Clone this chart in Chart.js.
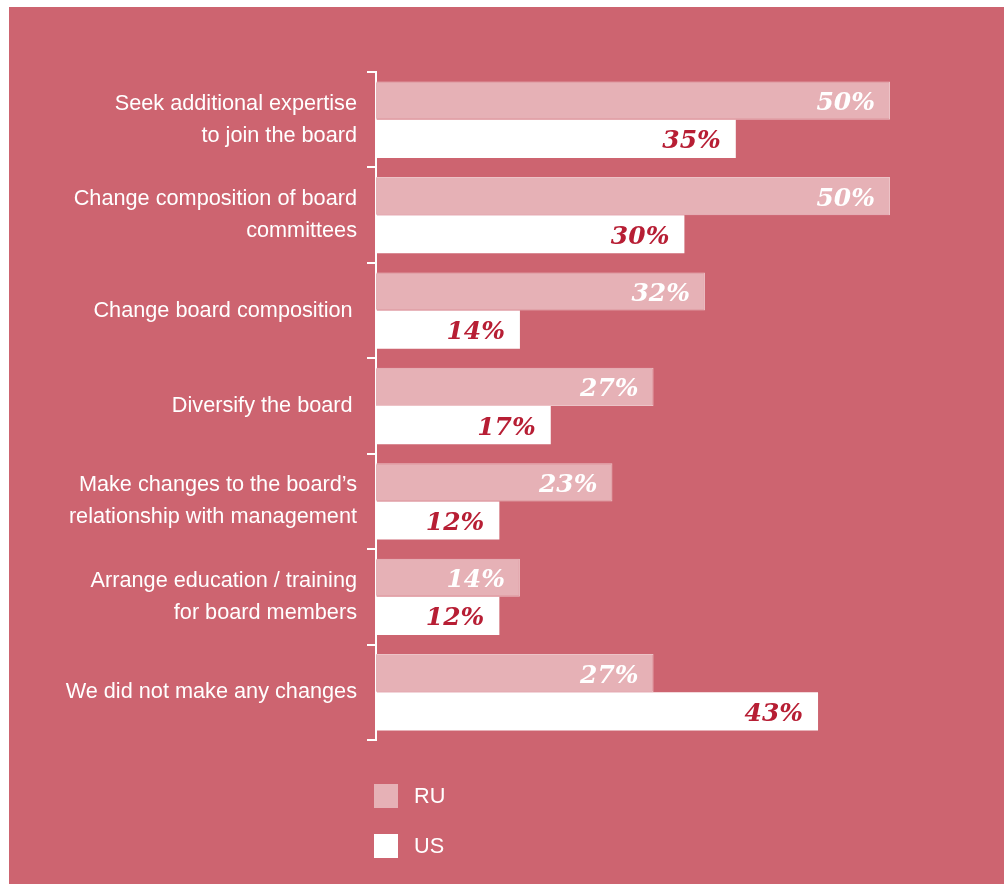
<!DOCTYPE html>
<html>
<head>
<meta charset="utf-8">
<script src="https://cdn.jsdelivr.net/npm/chart.js@4.4.1/dist/chart.umd.min.js"></script>
<style>
  html, body { margin: 0; padding: 0; background: #ffffff; }
  body { width: 1004px; height: 884px; position: relative; overflow: hidden; }
  #panel { position: absolute; left: 9px; top: 7px; width: 995px; height: 877px; background: #CD6470; }
  #chart { display: block; }
</style>
</head>
<body>
<div id="panel"><canvas id="chart" width="995" height="877"></canvas></div>
<script>
// Board changes made, share of respondents (%)
const categories = [
  ["Seek additional expertise", "to join the board"],
  ["Change composition of board", "committees"],
  "Change board composition\u2009",
  "Diversify the board\u2009",
  ["Make changes to the board\u2019s", "relationship with management"],
  ["Arrange education / training", "for board members"],
  "We did not make any changes"
];
const ruValues = [50, 50, 32, 27, 23, 14, 27];
const usValues = [35, 30, 14, 17, 12, 12, 43];
const seriesNames = ["RU", "US"];

const ruColor = "#E6B1B6";
const usColor = "#FFFFFF";
const ruLabelColor = "#FFFFFF";
const usLabelColor = "#B71E34";
const labelFont = "Liberation Sans, Arial, Helvetica, sans-serif";
const valueFont = "italic bold 25px 'DejaVu Serif', Georgia, serif";

// Percentage labels drawn inside the end of every bar
const valueLabels = {
  id: "valueLabels",
  afterDatasetsDraw(chart) {
    const ctx = chart.ctx;
    ctx.save();
    ctx.font = valueFont;
    ctx.textAlign = "right";
    ctx.textBaseline = "middle";
    chart.data.datasets.forEach((ds, di) => {
      const meta = chart.getDatasetMeta(di);
      ctx.fillStyle = di === 0 ? ruLabelColor : usLabelColor;
      meta.data.forEach((bar, i) => {
        ctx.fillText(ds.data[i] + "%", bar.x - 15, bar.y + 3);
      });
    });
    ctx.restore();
  }
};

// Stacked legend below the plot
const stackedLegend = {
  id: "stackedLegend",
  afterDraw(chart) {
    const ctx = chart.ctx;
    const area = chart.chartArea;
    ctx.save();
    ctx.font = "21.7px " + labelFont;
    ctx.textBaseline = "middle";
    ctx.textAlign = "left";
    chart.data.datasets.forEach((ds, i) => {
      const x = area.left - 2;
      const y = area.bottom + 44 + i * 50;
      ctx.fillStyle = ds.backgroundColor;
      ctx.fillRect(x, y, 24, 24);
      ctx.fillStyle = "#FFFFFF";
      ctx.fillText(ds.label, x + 40, y + 13);
    });
    ctx.restore();
  }
};

new Chart(document.getElementById("chart"), {
  type: "bar",
  data: {
    labels: categories,
    datasets: [
      {
        label: seriesNames[0],
        data: ruValues,
        backgroundColor: ruColor,
        borderColor: "#EDC3C7",
        borderWidth: 1,
        borderSkipped: "start"
      },
      {
        label: seriesNames[1],
        data: usValues,
        backgroundColor: usColor,
        borderWidth: 0
      }
    ]
  },
  options: {
    indexAxis: "y",
    responsive: false,
    animation: false,
    events: [],
    categoryPercentage: 0.8,
    barPercentage: 1.0,
    layout: { padding: { left: 0, right: 114, top: 65, bottom: 144 } },
    plugins: {
      legend: { display: false },
      tooltip: { enabled: false }
    },
    scales: {
      x: {
        display: false,
        min: 0,
        max: 50
      },
      y: {
        afterFit(scale) { scale.width = 367; },
        border: { display: true, color: "#FFFFFF", width: 2 },
        grid: {
          offset: true,
          drawOnChartArea: false,
          drawTicks: true,
          tickLength: 9,
          color: "#FFFFFF",
          lineWidth: 2
        },
        ticks: {
          color: "#FFFFFF",
          padding: 10,
          font: { family: labelFont, size: 21.7, lineHeight: 1.48 }
        }
      }
    }
  },
  plugins: [valueLabels, stackedLegend]
});
</script>
</body>
</html>
